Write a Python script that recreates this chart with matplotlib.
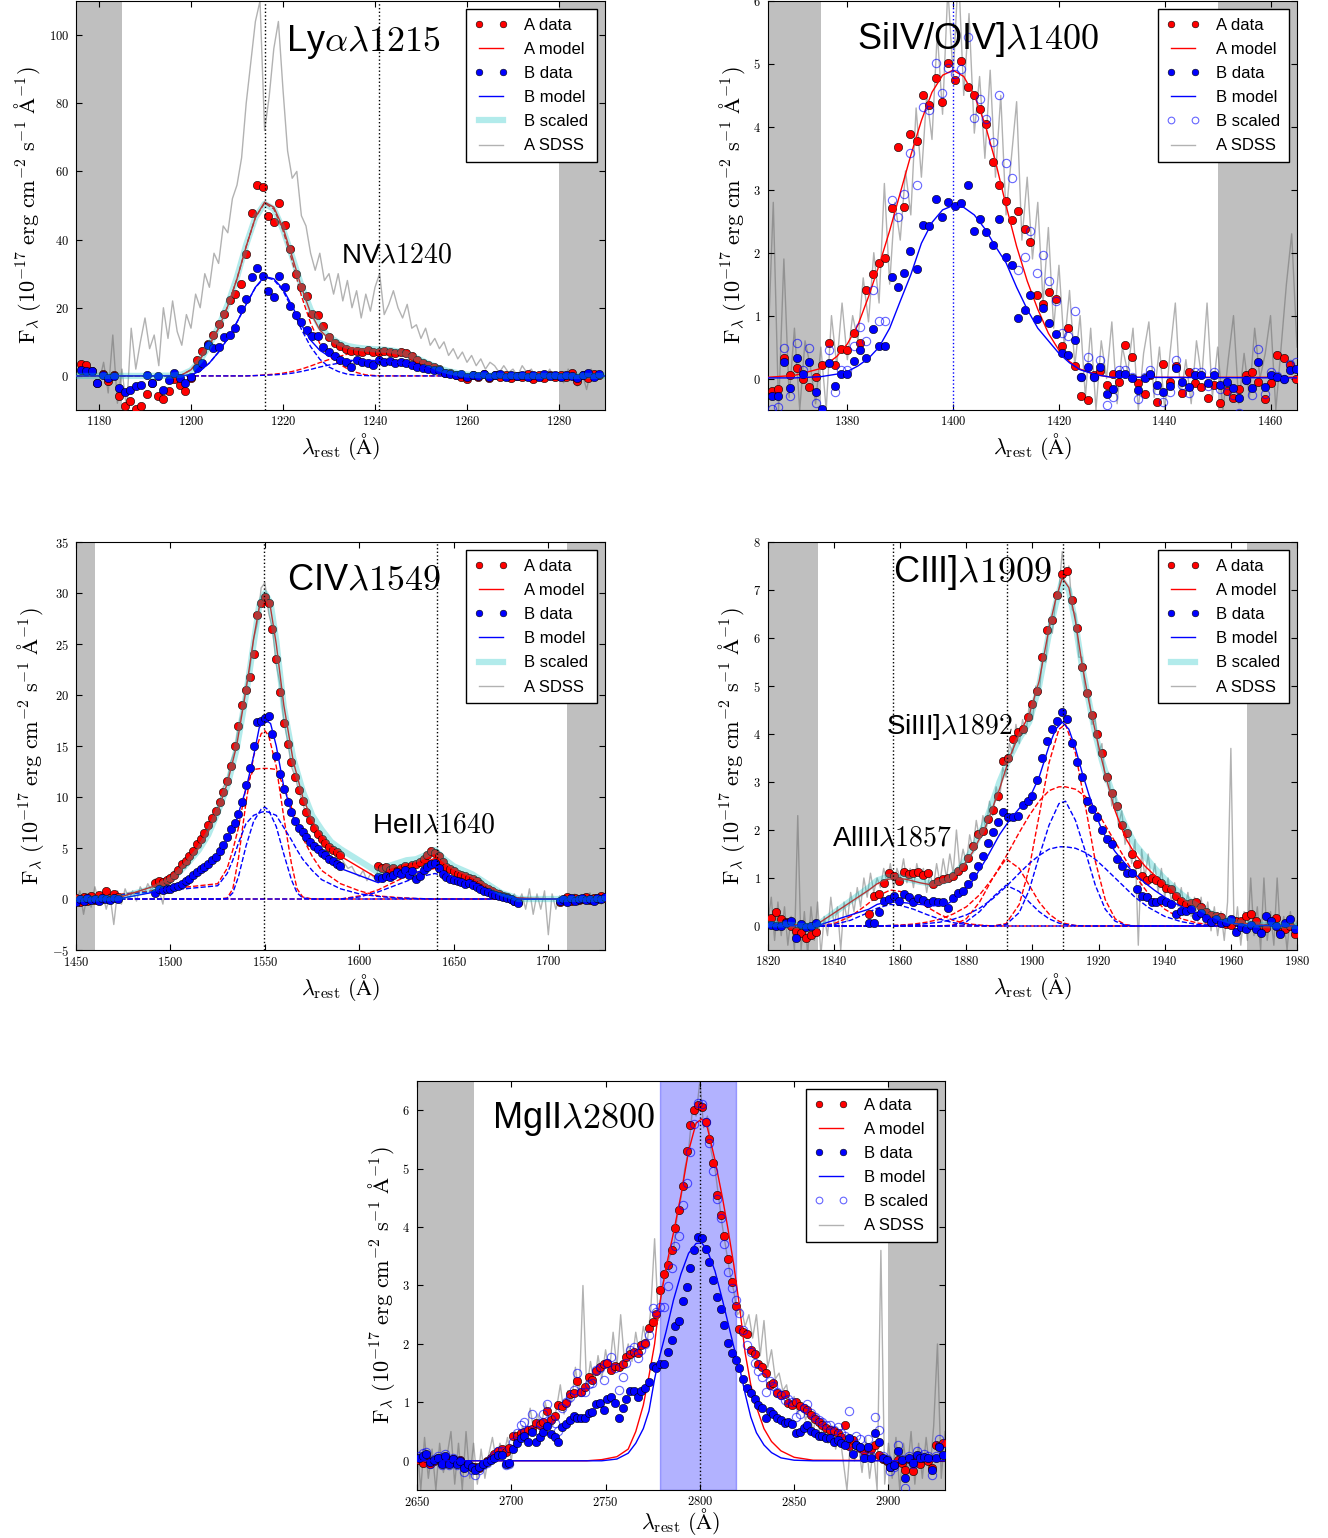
import matplotlib
matplotlib.use("Agg")
import matplotlib.pyplot as plt
from matplotlib.ticker import MultipleLocator, FuncFormatter

plt.rcParams['font.family'] = ['Liberation Sans', 'DejaVu Sans']
plt.rcParams['mathtext.fontset'] = 'cm'
plt.rcParams['xtick.direction'] = 'in'
plt.rcParams['ytick.direction'] = 'in'
plt.rcParams['xtick.top'] = True
plt.rcParams['ytick.right'] = True
plt.rcParams['xtick.major.size'] = 4
plt.rcParams['ytick.major.size'] = 4
plt.rcParams['xtick.major.pad'] = 3.5
plt.rcParams['ytick.major.pad'] = 5

# ---------------- Ly alpha / NV ----------------
ly_wl = [1176.0, 1177.2, 1178.4, 1179.6, 1180.8, 1182.0, 1183.2, 1184.4, 1185.6, 1186.8,
         1188.0, 1189.2, 1190.4, 1191.6, 1192.8, 1194.0, 1195.2, 1196.4, 1197.6, 1198.8,
         1200.0, 1201.2, 1202.4, 1203.6, 1204.8, 1206.0, 1207.2, 1208.4, 1209.6, 1210.8,
         1212.0, 1213.2, 1214.4, 1215.6, 1216.8, 1218.0, 1219.2, 1220.4, 1221.6, 1222.8,
         1224.0, 1225.2, 1226.4, 1227.6, 1228.8, 1230.0, 1231.2, 1232.4, 1233.6, 1234.8,
         1236.0, 1237.2, 1238.4, 1239.6, 1240.8, 1242.0, 1243.2, 1244.4, 1245.6, 1246.8,
         1248.0, 1249.2, 1250.4, 1251.6, 1252.8, 1254.0, 1255.2, 1256.4, 1257.6, 1258.8,
         1260.0, 1261.2, 1262.4, 1263.6, 1264.8, 1266.0, 1267.2, 1268.4, 1269.6, 1270.8,
         1272.0, 1273.2, 1274.4, 1275.6, 1276.8, 1278.0, 1279.2, 1280.4, 1281.6, 1282.8,
         1284.0, 1285.2, 1286.4, 1287.6, 1288.8]
ly_a = [3.4, 3.1, 1.5, -2.2, 0.5, -1.5, 0.2, -6.0, -8.8, -7.5,
        -9.8, -8.8, -5.4, -2.2, -5.8, -6.8, -4.3, -1.0, -2.8, -4.3,
        -0.5, 4.7, 7.4, 9.4, 12.0, 15.3, 18.2, 22.3, 24.0, 27.0,
        35.7, 47.8, 56.0, 55.4, 47.0, 45.3, 50.7, 44.2, 37.2, 29.8,
        26.0, 23.5, 18.2, 17.8, 14.5, 11.4, 9.8, 8.8, 7.8, 7.3,
        7.4, 7.1, 7.6, 7.1, 7.1, 7.4, 6.9, 6.7, 6.9, 6.7,
        5.7, 4.7, 3.7, 3.2, 2.7, 2.0, 1.0, 0.8, 0.3, -0.2,
        -1.0, 0.3, -0.3, 0.5, -0.5, 0.2, -0.4, 0.4, -0.6, 0.1,
        -0.3, 0.5, -0.8, 0.2, -0.5, 0.4, -0.2, 0.3, -0.4, 0.8,
        -1.6, 0.3, -0.5, 0.6, 0.2]
ly_b = [1.8, 1.5, 1.5, -2.2, 0.3, -0.5, 0.0, -3.6, -4.6, -4.1,
        -3.1, -2.6, 0.3, -2.2, 0.0, -4.1, -1.2, 0.8, -0.7, -2.2,
        -0.4, 2.3, 3.7, 9.0, 8.1, 8.6, 11.4, 12.0, 14.0, 19.6,
        22.5, 29.0, 31.6, 29.2, 24.8, 23.3, 29.4, 26.0, 20.6, 17.9,
        15.7, 13.5, 11.8, 11.6, 8.6, 6.9, 5.7, 4.7, 4.2, 2.7,
        4.7, 4.2, 3.7, 3.2, 4.7, 4.2, 4.4, 3.7, 4.2, 3.7,
        3.2, 2.7, 2.3, 2.0, 1.8, 1.6, 0.8, 0.5, 0.2, 0.6,
        -0.3, 0.4, 0.0, 0.6, -0.2, 0.3, 0.5, -0.2, 0.3, 0.0,
        0.4, -0.3, 0.2, -0.2, 0.5, -0.1, 0.3, -0.3, 0.4, 0.0,
        -0.5, 0.2, 0.8, -0.2, 0.5]
ly_mwl = [1175, 1190, 1196, 1198, 1200, 1202, 1204, 1206, 1208, 1210, 1212, 1214, 1216, 1218,
          1220, 1222, 1224, 1226, 1228, 1230, 1232, 1234, 1236, 1238, 1240, 1242, 1244, 1246,
          1248, 1250, 1252, 1254, 1256, 1258, 1260, 1264, 1270, 1290]
ly_ma = [0, 0, 0.1, 0.3, 1.8, 5.0, 9.0, 14.0, 20.5, 28.5, 38.0, 46.5, 51.0, 49.5,
         43.5, 35.0, 26.0, 18.5, 13.5, 10.8, 9.3, 8.5, 8.0, 7.7, 7.5, 7.3, 7.0, 6.4,
         5.5, 4.4, 3.2, 2.1, 1.3, 0.7, 0.4, 0.1, 0, 0]
ly_mb = [0, 0, 0.05, 0.1, 0.3, 1.5, 3.8, 7.0, 11.0, 15.8, 21.0, 26.0, 29.2, 28.5,
         25.5, 20.5, 15.0, 10.5, 7.5, 5.8, 5.0, 4.6, 4.5, 4.5, 4.5, 4.4, 4.2, 3.8,
         3.2, 2.5, 1.8, 1.2, 0.7, 0.4, 0.2, 0.05, 0, 0]
ly_sc = [0, 0, 0.1, 0.4, 1.6, 4.6, 9.0, 14.5, 21.0, 29.0, 38.5, 46.5, 50.5, 49.0,
         43.0, 35.0, 26.5, 19.5, 14.5, 11.5, 9.8, 8.8, 8.3, 8.0, 7.8, 7.7, 7.4, 6.8,
         5.8, 4.6, 3.4, 2.2, 1.4, 0.8, 0.4, 0.1, 0, 0]
ly_a_lya = [0, 0, 0.1, 0.3, 1.8, 5.0, 9.0, 14.0, 20.5, 28.5, 38.0, 46.5, 50.7, 49.0,
            42.7, 33.7, 23.5, 15.5, 9.5, 6.0, 3.7, 2.1, 1.0, 0.3, 0.1, 0, 0, 0,
            0, 0, 0, 0, 0, 0, 0, 0, 0, 0]
ly_a_nv = [0, 0, 0, 0, 0, 0, 0, 0, 0, 0, 0, 0.1, 0.3, 0.5,
           0.8, 1.3, 2.0, 2.9, 3.9, 4.8, 5.6, 6.4, 7.0, 7.4, 7.5, 7.3, 7.0, 6.4,
           5.5, 4.4, 3.2, 2.1, 1.3, 0.7, 0.4, 0.1, 0, 0]
ly_b_lya = [0, 0, 0.05, 0.1, 0.3, 1.5, 3.8, 7.0, 11.0, 15.8, 21.0, 25.9, 29.0, 28.2,
            25.0, 19.7, 13.7, 8.6, 4.9, 2.6, 1.3, 0.5, 0.2, 0.1, 0, 0, 0, 0,
            0, 0, 0, 0, 0, 0, 0, 0, 0, 0]
ly_b_nv = [0, 0, 0, 0, 0, 0, 0, 0, 0, 0, 0, 0.1, 0.2, 0.3,
           0.5, 0.8, 1.3, 1.9, 2.6, 3.2, 3.7, 4.1, 4.3, 4.5, 4.5, 4.4, 4.2, 3.8,
           3.2, 2.5, 1.8, 1.2, 0.7, 0.4, 0.2, 0.05, 0, 0]
ly_sdss_wl = [1180, 1181, 1182, 1183, 1184, 1185, 1186, 1187, 1188, 1189,
              1190, 1191, 1192, 1193, 1194, 1195, 1196, 1197, 1198, 1199,
              1200, 1201, 1202, 1203, 1204, 1205, 1206, 1207, 1208, 1209,
              1210, 1211, 1212, 1213, 1214, 1215, 1216, 1217, 1218, 1219,
              1220, 1221, 1222, 1223, 1224, 1225, 1226, 1227, 1228, 1229,
              1230, 1231, 1232, 1233, 1234, 1235, 1236, 1237, 1238, 1239,
              1240, 1241, 1242, 1243, 1244, 1245, 1246, 1247, 1248, 1249,
              1250, 1251, 1252, 1253, 1254, 1255, 1256, 1257, 1258, 1259,
              1260, 1261, 1262, 1263, 1264, 1265, 1266, 1267, 1268, 1269,
              1270, 1271, 1272, 1273, 1274, 1275, 1276, 1277, 1278, 1279,
              1280, 1281, 1282, 1283, 1284, 1285, 1286, 1287, 1288, 1289, 1290]
ly_sdss = [-2, 4, -5, 12, -8, 2, -10, 14, 2, 10,
           17, 8, 12, 3, 20, 11, 22, 13, 9, 18,
           14, 24, 20, 30, 26, 36, 33, 44, 42, 52,
           56, 64, 80, 92, 104, 110, 72, 82, 96, 104,
           84, 66, 58, 60, 47, 44, 36, 31, 36, 28,
           30, 24, 30, 22, 28, 20, 25, 17, 24, 19,
           26, 30, 18, 21, 25, 20, 17, 21, 14, 15,
           11, 14, 9, 11, 8, 10, 6, 8, 5, 7,
           4, 6, 3, 5, 2, 4, 3, 1, 3, 1,
           2, 0, 3, 1, 2, -1, 1, 0, 2, -1,
           1, -2, 2, -1, -3, 1, -4, 2, -1, 1, 0]

# ---------------- SiIV / OIV] ----------------
si_wl = [1365.7, 1366.8, 1368.0, 1369.2, 1370.5, 1371.6, 1372.8, 1374.1, 1375.2, 1376.5,
         1377.6, 1378.8, 1380.0, 1381.2, 1382.4, 1383.6, 1384.8, 1386.0, 1387.2, 1388.4,
         1389.5, 1390.7, 1391.9, 1393.1, 1394.3, 1395.5, 1396.8, 1397.9, 1399.1, 1400.3,
         1401.5, 1402.8, 1403.9, 1405.1, 1406.3, 1407.5, 1408.7, 1409.9, 1411.1, 1412.3,
         1413.5, 1414.6, 1415.8, 1417.0, 1418.2, 1419.4, 1420.6, 1421.8, 1423.0, 1424.2,
         1425.4, 1426.6, 1427.8, 1429.0, 1430.2, 1431.4, 1432.5, 1433.8, 1434.9, 1436.2,
         1437.3, 1438.5, 1439.7, 1440.9, 1442.2, 1443.3, 1444.5, 1445.7, 1446.9, 1448.2,
         1449.3, 1450.5, 1451.7, 1452.9, 1454.1, 1455.3, 1456.5, 1457.7, 1458.9, 1460.1,
         1461.2, 1462.5, 1463.6, 1464.8]
si_a = [-0.2, -0.16, 0.32, 0.05, 0.16, -0.01, -0.14, 0.02, 0.21, 0.57,
        0.21, 0.47, 0.45, 0.73, 0.56, 1.40, 1.66, 1.83, 1.92, 2.71,
        3.68, 2.73, 3.88, 3.77, 4.50, 4.35, 4.77, 4.40, 5.01, 4.74,
        5.05, 4.63, 4.50, 4.29, 4.04, 3.44, 3.07, 2.82, 2.52, 2.67,
        2.37, 2.17, 1.32, 1.19, 1.37, 1.27, 0.52, 0.81, 0.20, -0.27,
        -0.34, 0.05, 0.12, -0.10, 0.08, -0.05, 0.54, 0.35, -0.07, -0.24,
        0.05, -0.38, 0.23, -0.05, 0.20, -0.23, 0.10, -0.07, -0.14, -0.31,
        -0.10, -0.39, -0.20, -0.31, -0.17, 0.05, 0.10, -0.06, -0.32, -0.07,
        0.37, 0.32, 0.22, -0.01]
si_b = [-0.27, -0.27, 0.27, -0.15, 0.32, 0.08, 0.27, -0.22, -0.49, 0.24,
        -0.12, 0.07, 0.07, 0.28, 0.45, 0.32, 0.79, 0.51, 0.51, 1.61,
        1.46, 1.67, 2.03, 1.74, 2.44, 2.43, 2.85, 2.56, 2.81, 2.74,
        2.79, 3.08, 2.34, 2.53, 2.33, 2.13, 2.54, 1.93, 1.80, 0.96,
        1.09, 1.33, 0.95, 1.12, 0.88, 0.70, 0.40, 0.37, 0.61, 0.02,
        0.19, 0.02, 0.18, -0.24, -0.17, 0.07, 0.07, 0.01, -0.19, 0.01,
        0.08, -0.10, -0.22, -0.12, 0.16, -0.06, -0.13, 0.06, 0.06, -0.07,
        0.06, -0.10, -0.06, -0.15, -0.31, -0.02, -0.15, 0.26, -0.14, 0.06,
        0.02, 0.00, 0.13, 0.15]
si_bsc = [-0.49, -0.46, 0.48, -0.28, 0.57, 0.14, 0.48, -0.39, -0.86, 0.45,
          -0.21, 0.14, 0.14, 0.51, 0.82, 0.59, 1.41, 0.92, 0.92, 2.84,
          2.57, 2.94, 3.58, 3.08, 4.31, 4.27, 5.02, 4.53, 4.93, 4.84,
          4.92, 5.43, 4.14, 4.45, 4.12, 3.76, 4.50, 3.42, 3.18, 1.73,
          1.93, 2.34, 1.68, 1.96, 1.55, 1.23, 0.72, 0.67, 1.07, 0.03,
          0.35, 0.03, 0.30, -0.42, -0.30, 0.13, 0.14, 0.02, -0.33, 0.02,
          0.14, -0.18, -0.38, -0.21, 0.30, -0.10, -0.23, 0.11, 0.11, -0.12,
          0.11, -0.17, -0.10, -0.26, -0.54, -0.03, -0.26, 0.47, -0.24, 0.11,
          0.04, 0.00, 0.23, 0.27]
si_mwl = [1365, 1370, 1375, 1378, 1380, 1382, 1384, 1386, 1388, 1390, 1392, 1394, 1396, 1398, 1400,
          1402, 1404, 1406, 1408, 1410, 1412, 1414, 1416, 1418, 1420, 1422, 1424, 1427, 1430, 1465]
si_ma = [0.02, 0.05, 0.16, 0.35, 0.55, 0.85, 1.3, 1.8, 2.35, 2.95, 3.55, 4.1, 4.55, 4.82, 4.9,
         4.8, 4.5, 4.05, 3.45, 2.75, 2.1, 1.55, 1.1, 0.72, 0.45, 0.27, 0.15, 0.06, 0.02, 0.02]
si_mb = [0.01, 0.01, 0.03, 0.07, 0.11, 0.2, 0.32, 0.5, 0.8, 1.23, 1.65, 2.15, 2.48, 2.68, 2.75,
         2.72, 2.6, 2.38, 2.1, 1.84, 1.45, 1.1, 0.8, 0.6, 0.4, 0.25, 0.14, 0.06, 0.02, 0.01]
si_sdss_wl = [1365, 1366, 1367, 1368, 1369, 1370, 1371, 1372, 1373, 1374,
              1375, 1376, 1377, 1378, 1379, 1380, 1381, 1382, 1383, 1384,
              1385, 1386, 1387, 1388, 1389, 1390, 1391, 1392, 1393, 1394,
              1395, 1396, 1397, 1398, 1399, 1400, 1401, 1402, 1403, 1404,
              1405, 1406, 1407, 1408, 1409, 1410, 1411, 1412, 1413, 1414,
              1415, 1416, 1417, 1418, 1419, 1420, 1421, 1422, 1423, 1424,
              1425, 1426, 1427, 1428, 1429, 1430, 1431, 1432, 1433, 1434,
              1435, 1436, 1437, 1438, 1439, 1440, 1441, 1442, 1443, 1444,
              1445, 1446, 1447, 1448, 1449, 1450, 1451, 1452, 1453, 1454,
              1455, 1456, 1457, 1458, 1459, 1460, 1461, 1462, 1463, 1464, 1465]
si_sdss = [0.5, 2.8, -0.5, 1.9, -0.3, 0.8, -0.5, 0.6, 0.2, -0.4,
           0.5, -0.5, 1.0, 0.2, 1.2, 0.3, 1.0, 0.6, 1.6, 0.9,
           2.0, 1.2, 3.1, 1.5, 2.8, 2.2, 3.3, 2.6, 4.3, 3.2,
           4.5, 3.8, 5.5, 4.2, 6.2, 4.8, 6.5, 4.5, 5.8, 3.9,
           4.8, 3.5, 4.9, 3.2, 4.5, 2.6, 3.5, 4.4, 2.2, 3.2,
           1.9, 2.8, 1.2, 2.4, 0.8, 1.8, 0.5, 1.4, 0.2, 1.0,
           -0.3, 0.8, -0.5, 0.6, 0.0, 0.9, -0.4, 0.5, 0.1, 0.8,
           -0.5, 0.4, 0.9, -0.3, 0.5, -0.5, 0.4, 1.2, -0.3, 0.3,
           -0.4, 0.6, 0.0, 1.2, -0.3, 0.5, -0.5, 0.3, 1.0, -0.4,
           0.4, -0.3, 0.8, 0.0, 0.4, 1.0, -0.5, 0.5, 1.5, 2.3, 0.5]

# ---------------- CIV / HeII ----------------
civ_wl = [1450, 1452, 1454, 1456, 1458, 1460, 1462, 1464, 1466, 1468, 1470, 1472,
          1492, 1494, 1496, 1498, 1500, 1502, 1504, 1506, 1508, 1510,
          1512, 1514, 1516, 1518, 1520, 1522, 1524, 1526, 1528, 1530,
          1532, 1534, 1536, 1538, 1540, 1542, 1544, 1546, 1548, 1550,
          1552, 1554, 1556, 1558, 1560, 1562, 1564, 1566, 1568, 1570,
          1572, 1574, 1576, 1578, 1580, 1582, 1584, 1586, 1588, 1590,
          1610, 1612, 1614, 1616, 1618, 1620, 1622, 1624, 1626, 1628,
          1630, 1632, 1634, 1636, 1638, 1640, 1642, 1644, 1646, 1648,
          1650, 1652, 1654, 1656, 1658, 1660, 1662, 1664, 1666, 1668,
          1670, 1672, 1674, 1676, 1678, 1680, 1682, 1684,
          1706, 1708, 1710, 1712, 1714, 1716, 1718, 1720, 1722, 1724, 1726, 1728, 1730]
civ_a = [0.1, -0.3, 0.2, -0.2, 0.3, -0.1, 0.4, 0.0, 0.8, 0.1, 0.5, 0.2,
         1.6, 1.8, 1.7, 1.9, 2.1, 2.4, 2.8, 3.4, 3.7, 4.2,
         4.7, 5.4, 5.9, 6.5, 7.3, 7.9, 8.6, 9.5, 10.5, 11.6,
         13.0, 15.0, 17.0, 19.0, 20.5, 21.8, 24.0, 27.8, 29.0, 29.6,
         29.0, 26.5, 23.5, 20.3, 17.3, 15.2, 13.4, 12.0, 10.7, 9.6,
         8.5, 7.7, 7.0, 6.4, 5.9, 5.5, 5.1, 4.8, 4.6, 4.3,
         3.2, 3.0, 3.1, 2.8, 3.0, 2.7, 3.0, 3.2, 2.9, 3.3,
         3.4, 3.6, 3.9, 4.3, 4.7, 4.5, 4.2, 3.6, 3.1, 2.9,
         2.7, 2.5, 2.4, 2.3, 2.1, 2.0, 1.8, 1.5, 1.2, 1.0,
         0.8, 0.6, 0.5, 0.3, 0.2, 0.0, -0.2, -0.3,
         -0.3, -0.1, 0.2, -0.2, 0.1, -0.1, 0.0, 0.2, -0.1, 0.1, 0.0, 0.3, 0.1]
civ_b = [-0.3, 0.0, -0.2, 0.1, -0.1, 0.0, -0.2, 0.1, 0.0, -0.1, 0.1, 0.0,
         0.6, 1.0, 0.9, 1.0, 1.0, 1.2, 1.3, 1.5, 1.8, 2.0,
         2.4, 2.6, 2.9, 3.1, 3.4, 3.8, 4.1, 4.7, 5.3, 6.1,
         6.9, 7.5, 8.3, 9.5, 11.2, 12.8, 15.0, 17.4, 17.5, 17.7,
         17.9, 16.2, 14.0, 12.3, 10.8, 9.5, 8.5, 7.6, 7.0, 6.6,
         6.1, 5.6, 5.2, 4.9, 4.5, 4.3, 3.9, 3.7, 3.4, 3.2,
         2.2, 2.1, 2.3, 2.2, 2.4, 2.6, 2.5, 2.8, 2.4, 2.7,
         2.0, 2.3, 2.8, 3.1, 3.4, 3.5, 3.0, 2.5, 2.2, 2.0,
         1.9, 1.8, 1.7, 1.5, 1.6, 1.4, 1.2, 1.0, 0.8, 0.7,
         0.5, 0.4, 0.3, 0.2, 0.1, 0.0, -0.2, -0.4,
         -0.2, 0.0, -0.3, 0.1, -0.2, 0.0, 0.1, -0.1, 0.0, -0.2, 0.1, 0.0, 0.2]
civ_mwl = [1450, 1472, 1492, 1500, 1505, 1510, 1515, 1520, 1525, 1530, 1535, 1540, 1544, 1547,
           1550, 1553, 1556, 1560, 1565, 1570, 1575, 1580, 1585, 1590, 1610, 1615, 1620, 1625,
           1630, 1635, 1640, 1645, 1650, 1655, 1660, 1665, 1670, 1675, 1680, 1684, 1706, 1730]
civ_ma = [0.0, 0.1, 1.3, 2.0, 2.8, 3.8, 5.0, 6.6, 8.6, 11.3, 15.0, 20.5, 25.5, 28.6,
          29.5, 28.5, 25.0, 19.0, 13.5, 10.0, 7.7, 6.1, 5.0, 4.2, 2.0, 2.7, 2.9, 3.1,
          3.3, 3.6, 4.0, 3.5, 2.9, 2.5, 2.1, 1.6, 1.1, 0.6, 0.3, 0.1, 0.0, 0.0]
civ_mb = [0.0, 0.0, 0.7, 1.1, 1.5, 2.0, 2.6, 3.3, 4.3, 5.8, 7.8, 10.8, 14.0, 16.8,
          17.6, 17.2, 15.0, 11.0, 8.0, 6.5, 5.3, 4.4, 3.7, 3.0, 1.6, 2.0, 2.3, 2.5,
          2.6, 2.9, 3.2, 2.6, 2.1, 1.8, 1.5, 1.1, 0.7, 0.4, 0.2, 0.0, 0.0, 0.0]
civ_sc = [0.0, 0.1, 1.1, 1.9, 2.7, 3.7, 4.8, 6.3, 8.5, 11.0, 14.7, 20.0, 25.0, 28.8,
          30.0, 29.0, 25.3, 18.8, 13.8, 10.6, 8.2, 6.8, 5.6, 4.9, 2.6, 3.2, 3.5, 3.8,
          3.9, 4.3, 4.8, 3.9, 3.2, 2.8, 2.4, 1.8, 1.2, 0.6, 0.3, 0.0, 0.0, 0.0]
civ_cwl = [1450, 1525, 1530, 1533, 1536, 1540, 1544, 1548, 1550, 1552, 1556, 1560, 1564, 1567,
           1570, 1575, 1580, 1590, 1600, 1610, 1620, 1630, 1640, 1650, 1660, 1670, 1680, 1690, 1730]
civ_a_nar = [0, 0, 0.1, 1.0, 4.0, 9.5, 14.0, 16.2, 16.5, 16.0, 13.0, 8.0, 3.5, 1.0,
             0.2, 0, 0, 0, 0, 0, 0, 0, 0, 0, 0, 0, 0, 0, 0]
civ_a_brd = [0, 1.5, 3.0, 4.8, 7.0, 11.0, 12.7, 12.8, 12.8, 12.8, 12.7, 11.0, 9.0, 7.5,
             6.0, 4.2, 2.8, 1.5, 0.8, 0.3, 0.15, 0.05, 0, 0, 0, 0, 0, 0, 0]
civ_a_he = [0, 0, 0, 0, 0, 0, 0, 0, 0, 0, 0, 0, 0, 0,
            0, 0, 0, 0, 0.3, 0.9, 1.8, 2.6, 3.0, 2.5, 1.5, 0.7, 0.2, 0, 0]
civ_b_nar = [0, 0, 0.05, 0.6, 2.2, 5.2, 7.6, 8.8, 9.0, 8.7, 7.1, 4.4, 1.9, 0.6,
             0.1, 0, 0, 0, 0, 0, 0, 0, 0, 0, 0, 0, 0, 0, 0]
civ_b_brd = [0, 1.3, 2.5, 3.8, 5.5, 7.4, 8.2, 8.5, 8.6, 8.5, 8.2, 7.0, 5.8, 4.8,
             3.9, 2.8, 1.9, 1.0, 0.5, 0.25, 0.1, 0.05, 0, 0, 0, 0, 0, 0, 0]
civ_b_he = [0, 0, 0, 0, 0, 0, 0, 0, 0, 0, 0, 0, 0, 0,
            0, 0, 0, 0, 0.2, 0.7, 1.4, 2.1, 2.5, 2.0, 1.2, 0.55, 0.15, 0, 0]
civ_sdss_wl = [1450, 1452, 1454, 1456, 1458, 1460, 1462, 1464, 1466, 1468,
               1470, 1472, 1474, 1476, 1478, 1480, 1482, 1484, 1486, 1488, 1490,
               1492, 1494, 1496, 1498, 1500, 1502, 1504, 1506, 1508, 1510,
               1512, 1514, 1516, 1518, 1520, 1522, 1524, 1526, 1528, 1530,
               1532, 1534, 1536, 1538, 1540, 1542, 1544, 1546, 1548, 1550,
               1552, 1554, 1556, 1558, 1560, 1562, 1564, 1566, 1568, 1570,
               1572, 1574, 1576, 1578, 1580, 1582, 1584, 1586, 1588, 1590,
               1592, 1594, 1596, 1598, 1600, 1602, 1604, 1606, 1608, 1610,
               1612, 1614, 1616, 1618, 1620, 1622, 1624, 1626, 1628, 1630,
               1632, 1634, 1636, 1638, 1640, 1642, 1644, 1646, 1648, 1650,
               1652, 1654, 1656, 1658, 1660, 1662, 1664, 1666, 1668, 1670,
               1672, 1674, 1676, 1678, 1680, 1682, 1684, 1686, 1688, 1690,
               1692, 1694, 1696, 1698, 1700, 1702, 1704, 1706, 1708, 1710,
               1712, 1714, 1716, 1718, 1720, 1722, 1724, 1726, 1728, 1730]
civ_sdss = [-0.5, 0.8, -1.5, 0.5, -0.8, 1.2, -0.3, 0.6, -1.0, 0.4,
            -2.5, 0.8, -0.5, 1.0, 0.0, 0.8, -0.2, 1.2, 0.5, 1.5, 0.8,
            2.0, 0.8, -0.5, 2.2, 1.5, 2.8, 2.2, 3.5, 3.0, 4.5,
            4.0, 5.5, 5.0, 6.8, 6.5, 8.0, 8.5, 9.5, 11.0, 11.5,
            13.5, 14.5, 17.0, 18.5, 21.0, 22.5, 25.5, 27.0, 30.5, 31.0,
            28.0, 26.5, 23.0, 21.0, 17.5, 15.5, 13.0, 12.0, 10.5, 9.5,
            8.0, 7.5, 6.5, 6.0, 5.5, 5.0, 4.5, 4.8, 3.8, 4.2,
            3.5, 3.0, 3.2, 2.5, 2.2, 2.8, 1.8, 2.5, 2.0, 2.8,
            2.5, 3.2, 2.4, 3.0, 2.6, 3.3, 2.7, 3.1, 2.9, 3.6,
            3.2, 4.0, 3.8, 4.6, 4.0, 3.9, 3.2, 3.0, 2.5, 2.8,
            2.2, 2.6, 2.0, 2.4, 1.8, 2.1, 1.2, 1.6, 0.8, 1.2,
            0.4, 0.9, 0.0, 0.6, -0.3, 0.5, -0.5, 0.5, -1.0, 1.0,
            -1.5, 0.5, -1.0, 0.8, -3.5, 0.5, -1.0, 0.3, -0.5, 0.4,
            -0.3, 0.5, -0.6, 0.2, -0.4, 0.6, -0.2, 0.3, -0.5, 0.2]

# ---------------- CIII] / SiIII] / AlIII ----------------
c3_wl = [1821.0, 1822.5, 1824.0, 1825.5, 1827.0, 1828.5, 1830.0, 1831.5, 1833.0, 1834.5,
         1850.5, 1852.0, 1853.5, 1855.0, 1856.5, 1858.0, 1859.5, 1861.0, 1862.5, 1864.0,
         1865.5, 1867.0, 1868.5, 1870.0, 1871.5, 1873.0, 1874.5, 1876.0, 1877.5, 1879.0,
         1880.5, 1882.0, 1883.5, 1885.0, 1886.5, 1888.0, 1889.5, 1891.0, 1892.5, 1894.0,
         1895.5, 1897.0, 1898.5, 1900.0, 1901.5, 1903.0, 1904.5, 1906.0, 1907.5, 1909.0,
         1910.5, 1912.0, 1913.5, 1915.0, 1916.5, 1918.0, 1919.5, 1921.0, 1922.5, 1924.0,
         1925.5, 1927.0, 1928.5, 1930.0, 1931.5, 1933.0, 1934.5, 1936.0, 1937.5, 1939.0,
         1940.5, 1942.0, 1943.5, 1945.0, 1946.5, 1948.0, 1949.5, 1951.0, 1952.5, 1954.0,
         1955.5, 1957.0, 1958.5, 1960.0, 1961.5, 1963.0, 1964.5, 1966.0, 1967.5, 1969.0,
         1970.5, 1972.0, 1973.5, 1975.0, 1976.5, 1978.0, 1979.5]
c3_a = [0.17, 0.30, 0.14, 0.08, 0.0, -0.10, -0.14, -0.24, -0.18, -0.12,
        0.24, 0.62, 0.66, 0.90, 1.10, 1.05, 0.94, 1.13, 1.08, 1.10,
        1.12, 1.07, 1.10, 0.87, 0.94, 0.97, 1.00, 1.05, 1.14, 1.23,
        1.42, 1.66, 1.92, 1.98, 2.22, 2.42, 2.70, 3.43, 3.50, 3.90,
        4.05, 4.10, 4.35, 4.62, 4.90, 5.60, 6.17, 6.38, 6.90, 7.33,
        7.40, 6.80, 6.20, 5.40, 4.85, 4.40, 4.00, 3.60, 3.10, 2.78,
        2.50, 2.10, 1.94, 1.50, 1.30, 1.05, 0.95, 1.00, 0.95, 0.90,
        0.80, 0.77, 0.62, 0.52, 0.46, 0.48, 0.50, 0.40, 0.30, 0.22,
        0.20, 0.18, 0.05, 0.03, 0.10, 0.10, 0.20, 0.25, 0.10, -0.08,
        -0.04, 0.10, 0.17, -0.12, -0.06, 0.0, -0.17]
c3_b = [0.03, 0.0, -0.01, 0.07, 0.10, -0.26, 0.05, -0.03, 0.01, 0.07,
        0.07, 0.07, 0.30, 0.52, 0.56, 0.62, 0.52, 0.66, 0.60, 0.50,
        0.58, 0.55, 0.47, 0.52, 0.50, 0.49, 0.38, 0.58, 0.68, 0.72,
        0.88, 1.05, 1.25, 1.45, 1.72, 1.95, 2.17, 2.38, 2.27, 2.28,
        2.30, 2.52, 2.60, 2.70, 3.05, 3.50, 3.85, 4.10, 4.28, 4.45,
        4.32, 3.81, 3.42, 3.10, 2.60, 2.43, 2.27, 2.00, 1.82, 1.71,
        1.40, 1.25, 1.11, 1.10, 0.78, 0.63, 0.60, 0.50, 0.50, 0.55,
        0.49, 0.45, 0.25, 0.32, 0.31, 0.35, 0.21, 0.28, 0.17, 0.08,
        0.14, 0.07, 0.08, 0.14, -0.12, -0.03, -0.07, 0.03, -0.07, -0.14,
        0.21, 0.10, 0.0, -0.17, 0.07, 0.14, -0.07]
c3_mwl = [1820, 1825, 1830, 1834.5, 1850.5, 1853, 1856, 1859, 1862, 1866, 1870, 1874, 1878, 1882,
          1886, 1890, 1893, 1896, 1899, 1902, 1905, 1907, 1909, 1911, 1913, 1915, 1917, 1919,
          1921, 1923, 1925, 1928, 1931, 1934, 1937, 1940, 1944, 1948, 1952, 1956, 1960, 1965,
          1970, 1980]
c3_ma = [0.05, 0.04, 0.02, 0.02, 0.75, 0.88, 0.97, 1.0, 0.97, 0.9, 0.85, 0.92, 1.15, 1.55,
         2.1, 2.85, 3.5, 4.0, 4.4, 5.1, 6.2, 6.8, 7.25, 7.05, 6.35, 5.45, 4.7, 4.05,
         3.45, 2.9, 2.4, 1.85, 1.5, 1.25, 1.05, 0.85, 0.62, 0.45, 0.3, 0.18, 0.1, 0.05,
         0.02, 0.0]
c3_mb = [0.02, 0.01, 0.0, 0.0, 0.35, 0.45, 0.5, 0.5, 0.48, 0.45, 0.42, 0.45, 0.62, 0.95,
         1.4, 1.9, 2.2, 2.45, 2.65, 3.1, 3.75, 4.1, 4.25, 4.1, 3.7, 3.2, 2.75, 2.35,
         2.0, 1.75, 1.55, 1.3, 1.08, 0.9, 0.74, 0.6, 0.44, 0.31, 0.2, 0.12, 0.06, 0.02,
         0.01, 0.0]
c3_sc = [0.04, 0.03, 0.0, 0.0, 0.8, 0.95, 1.02, 1.02, 0.98, 0.92, 0.88, 0.95, 1.2, 1.6,
         2.2, 3.0, 3.5, 3.9, 4.25, 5.0, 6.1, 6.7, 7.2, 7.0, 6.3, 5.4, 4.7, 4.0,
         3.45, 3.0, 2.6, 2.1, 1.7, 1.45, 1.2, 0.98, 0.72, 0.5, 0.33, 0.2, 0.1, 0.04,
         0.02, 0.0]
c3_cwl = [1820, 1835, 1840, 1845, 1850, 1853, 1857, 1860, 1864, 1868, 1872, 1876, 1880, 1884,
          1888, 1892, 1896, 1899, 1902, 1905, 1908, 1910, 1913, 1916, 1919, 1922, 1925, 1928,
          1931, 1935, 1940, 1945, 1950, 1955, 1960, 1980]
c3_a_al = [0, 0, 0.05, 0.2, 0.45, 0.62, 0.75, 0.72, 0.58, 0.4, 0.24, 0.12, 0.05, 0.02,
           0, 0, 0, 0, 0, 0, 0, 0, 0, 0, 0, 0, 0, 0, 0, 0, 0, 0, 0, 0, 0, 0]
c3_a_si = [0, 0, 0, 0, 0, 0, 0, 0, 0, 0, 0, 0.02, 0.15, 0.5,
           1.0, 1.4, 1.2, 0.85, 0.5, 0.25, 0.1, 0.05, 0.01, 0, 0, 0, 0, 0, 0, 0, 0, 0, 0, 0, 0, 0]
c3_a_nar = [0, 0, 0, 0, 0, 0, 0, 0, 0, 0, 0, 0, 0, 0,
            0, 0.05, 0.45, 1.2, 2.3, 3.4, 4.1, 4.2, 3.6, 2.5, 1.35, 0.55, 0.15, 0.03,
            0, 0, 0, 0, 0, 0, 0, 0]
c3_a_brd = [0, 0, 0, 0, 0, 0, 0.01, 0.02, 0.04, 0.08, 0.14, 0.25, 0.4, 0.65,
            1.0, 1.45, 1.95, 2.3, 2.6, 2.82, 2.9, 2.9, 2.85, 2.7, 2.45, 2.1, 1.75, 1.4,
            1.05, 0.68, 0.35, 0.15, 0.06, 0.02, 0, 0]
c3_b_al = [0, 0, 0.03, 0.12, 0.27, 0.37, 0.45, 0.43, 0.35, 0.24, 0.14, 0.07, 0.03, 0.01,
           0, 0, 0, 0, 0, 0, 0, 0, 0, 0, 0, 0, 0, 0, 0, 0, 0, 0, 0, 0, 0, 0]
c3_b_si = [0, 0, 0, 0, 0, 0, 0, 0, 0, 0, 0, 0.01, 0.09, 0.3,
           0.6, 0.85, 0.72, 0.5, 0.3, 0.15, 0.06, 0.03, 0.01, 0, 0, 0, 0, 0, 0, 0, 0, 0, 0, 0, 0, 0]
c3_b_nar = [0, 0, 0, 0, 0, 0, 0, 0, 0, 0, 0, 0, 0, 0,
            0, 0.03, 0.28, 0.75, 1.45, 2.1, 2.55, 2.6, 2.2, 1.55, 0.85, 0.35, 0.1, 0.02,
            0, 0, 0, 0, 0, 0, 0, 0]
c3_b_brd = [0, 0, 0, 0, 0, 0, 0.01, 0.01, 0.02, 0.05, 0.08, 0.14, 0.23, 0.37,
            0.57, 0.82, 1.1, 1.3, 1.47, 1.6, 1.65, 1.65, 1.62, 1.53, 1.39, 1.2, 1.0, 0.8,
            0.6, 0.39, 0.2, 0.09, 0.03, 0.01, 0, 0]
c3_sdss_wl = [1820, 1821, 1822, 1823, 1824, 1825, 1826, 1827, 1828, 1829,
              1830, 1831, 1832, 1833, 1834, 1835, 1836, 1837, 1838, 1839,
              1840, 1841, 1842, 1843, 1844, 1845, 1846, 1847, 1848, 1849,
              1850, 1851, 1852, 1853, 1854, 1855, 1856, 1857, 1858, 1859,
              1860, 1861, 1862, 1863, 1864, 1865, 1866, 1867, 1868, 1869,
              1870, 1871, 1872, 1873, 1874, 1875, 1876, 1877, 1878, 1879,
              1880, 1881, 1882, 1883, 1884, 1885, 1886, 1887, 1888, 1889,
              1890, 1891, 1892, 1893, 1894, 1895, 1896, 1897, 1898, 1899,
              1900, 1901, 1902, 1903, 1904, 1905, 1906, 1907, 1908, 1909,
              1910, 1911, 1912, 1913, 1914, 1915, 1916, 1917, 1918, 1919,
              1920, 1921, 1922, 1923, 1924, 1925, 1926, 1927, 1928, 1929,
              1930, 1931, 1932, 1933, 1934, 1935, 1936, 1937, 1938, 1939,
              1940, 1941, 1942, 1943, 1944, 1945, 1946, 1947, 1948, 1949,
              1950, 1951, 1952, 1953, 1954, 1955, 1956, 1957, 1958, 1959,
              1960, 1961, 1962, 1963, 1964, 1965, 1966, 1967, 1968, 1969,
              1970, 1971, 1972, 1973, 1974, 1975, 1976, 1977, 1978, 1979, 1980]
c3_sdss = [0.1, 0.6, -0.3, 0.5, -0.2, 0.4, -0.4, 0.2, -0.5, 2.3,
           -0.5, 0.3, -0.6, 0.4, -0.3, 0.5, -0.6, 0.2, -0.2, 0.6,
           0.0, 0.4, -0.5, 0.5, 0.1, 0.7, 0.3, 0.8, 0.4, 1.0,
           0.6, 1.1, 0.7, 1.0, 0.8, 1.2, 0.9, 1.3, 0.8, 1.2,
           1.0, 1.4, 0.9, 1.2, 0.8, 1.3, 1.0, 1.2, 0.7, 1.1,
           0.8, 1.3, 0.9, 1.4, 1.0, 1.5, 1.1, 2.0, 1.2, 1.6,
           1.3, 1.9, 1.6, 2.2, 1.8, 2.3, 2.0, 2.6, 2.3, 2.9,
           2.6, 3.3, 3.1, 3.8, 3.6, 4.2, 3.8, 4.3, 4.0, 4.6,
           4.3, 5.0, 4.8, 5.6, 5.5, 6.3, 6.1, 6.8, 7.0, 7.8,
           7.3, 7.5, 6.6, 6.5, 5.6, 5.6, 4.8, 4.9, 4.2, 4.3,
           3.6, 3.8, 3.0, 3.2, 2.5, 2.8, 2.1, 2.4, 1.7, 2.0,
           1.3, 1.8, -0.4, 1.6, 1.0, 1.5, 0.9, 1.3, 0.7, 1.2,
           0.6, 1.0, 0.5, 0.9, 0.4, 0.8, 0.3, 0.7, 0.2, 0.6,
           0.1, 0.6, 0.0, 0.5, -0.1, 0.4, -0.2, 0.3, -0.3, 0.5,
           3.7, -0.2, 0.4, -0.4, 0.3, -0.3, 1.0, -0.2, 0.4, -0.5,
           1.0, -0.3, 0.3, -0.4, 1.0, -0.2, 0.2, -0.5, 0.3, -0.2, 0.1]

# ---------------- MgII ----------------
mg_wl = [2651, 2653, 2655, 2657, 2659, 2661, 2663, 2665, 2667, 2669, 2671, 2673, 2675,
         2677, 2679, 2681, 2683, 2685, 2687, 2689, 2691, 2693, 2695, 2697, 2699,
         2701, 2703, 2705, 2707, 2709, 2711, 2713, 2715, 2717, 2719,
         2721, 2723, 2725, 2727, 2729, 2731, 2733, 2735, 2737, 2739,
         2741, 2743, 2745, 2747, 2749, 2751, 2753, 2755, 2757, 2759,
         2761, 2763, 2765, 2767, 2769, 2771, 2773, 2775, 2777, 2779,
         2781, 2783, 2785, 2787, 2789, 2791, 2793, 2795, 2797, 2799,
         2801, 2803, 2805, 2807, 2809, 2811, 2813, 2815, 2817, 2819,
         2821, 2823, 2825, 2827, 2829, 2831, 2833, 2835, 2837, 2839,
         2841, 2843, 2845, 2847, 2849, 2851, 2853, 2855, 2857, 2859,
         2861, 2863, 2865, 2867, 2869, 2871, 2873, 2875, 2877, 2879,
         2881, 2883, 2885, 2887, 2889, 2891, 2893, 2895, 2897, 2899,
         2901, 2903, 2905, 2907, 2909, 2911, 2913, 2915, 2917, 2919,
         2921, 2923, 2925, 2927, 2929]
mg_a = [0.02, -0.03, 0.05, -0.05, 0.0, 0.04, -0.04, 0.05, 0.0, 0.03, -0.02, 0.02, -0.05,
        -0.05, -0.1, -0.1, -0.12, -0.05, 0.0, 0.05, 0.12, 0.17, 0.2, 0.15, 0.22,
        0.42, 0.43, 0.47, 0.5, 0.52, 0.55, 0.65, 0.62, 0.67, 0.86,
        0.69, 0.76, 0.95, 0.93, 0.99, 1.14, 1.16, 1.36, 1.18, 1.27,
        1.43, 1.39, 1.53, 1.61, 1.65, 1.67, 1.56, 1.62, 1.6, 1.65,
        1.77, 1.82, 1.87, 1.85, 1.99, 2.02, 2.27, 2.38, 2.51, 2.93,
        3.19, 3.35, 3.6, 3.99, 4.3, 4.7, 5.3, 5.75, 6.0, 6.09,
        6.06, 5.79, 5.5, 5.1, 4.55, 4.2, 3.85, 3.46, 3.06, 2.65,
        2.26, 2.21, 2.17, 1.89, 1.82, 1.65, 1.6, 1.5, 1.29, 1.33,
        1.16, 1.13, 1.14, 0.99, 0.96, 1.01, 0.93, 0.9, 0.87, 0.79,
        0.72, 0.67, 0.61, 0.56, 0.53, 0.51, 0.47, 0.4, 0.61, 0.25,
        0.36, 0.27, 0.22, 0.16, 0.22, 0.21, 0.27, 0.1, 0.03, 0.0,
        -0.1, -0.08, 0.02, -0.04, -0.15, 0.03, -0.18, 0.06, -0.06, 0.05,
        0.0, -0.13, 0.27, 0.25, 0.3]
mg_b = [0.05, 0.08, 0.12, -0.02, 0.02, 0.05, -0.05, 0.08, -0.05, 0.03, -0.05, 0.0, -0.12,
        -0.05, -0.1, -0.15, -0.1, -0.05, -0.02, 0.02, 0.05, 0.1, 0.1, -0.05, -0.03,
        0.2, 0.3, 0.39, 0.42, 0.33, 0.5, 0.33, 0.4, 0.5, 0.59,
        0.45, 0.4, 0.32, 0.57, 0.63, 0.69, 0.76, 0.74, 0.73, 0.73,
        0.82, 0.83, 0.97, 0.99, 0.87, 1.05, 1.1, 0.99, 0.74, 0.9,
        1.05, 1.19, 1.2, 1.1, 1.19, 1.25, 1.35, 1.63, 1.59, 1.65,
        1.65, 1.87, 2.06, 2.3, 2.4, 2.73, 2.97, 3.3, 3.6, 3.83,
        3.81, 3.62, 3.4, 3.1, 2.8, 2.6, 2.32, 2.02, 1.85, 1.72,
        1.58, 1.4, 1.24, 1.16, 1.05, 0.96, 0.9, 0.73, 0.85, 0.8,
        0.73, 0.7, 0.65, 0.66, 0.63, 0.47, 0.5, 0.56, 0.61, 0.51,
        0.47, 0.43, 0.42, 0.39, 0.39, 0.33, 0.36, 0.3, 0.27, 0.39,
        0.11, 0.27, 0.23, 0.05, 0.23, 0.05, 0.47, 0.33, 0.05, 0.02,
        -0.11, -0.07, 0.17, 0.02, -0.29, 0.05, -0.04, 0.1, 0.05, 0.07,
        0.05, -0.15, 0.05, 0.23, 0.1]
mg_bsc = [0.08, 0.13, 0.15, -0.05, 0.03, 0.08, -0.08, 0.12, -0.08, 0.05, -0.08, 0.0, -0.2,
          -0.08, -0.16, -0.24, -0.16, -0.08, -0.03, 0.03, 0.08, 0.16, 0.16, -0.08, -0.05,
          0.32, 0.48, 0.62, 0.67, 0.53, 0.8, 0.53, 0.64, 0.8, 0.97,
          0.72, 0.64, 0.51, 0.91, 1.01, 1.1, 1.22, 1.5, 1.17, 1.17,
          1.31, 1.33, 1.55, 1.58, 1.39, 1.68, 1.78, 1.58, 1.22, 1.44,
          1.68, 1.9, 1.95, 1.76, 1.9, 2.0, 2.16, 2.61, 2.54, 2.64,
          2.64, 2.99, 3.3, 3.68, 3.84, 4.37, 4.75, 5.28, 5.76, 6.12,
          6.1, 5.8, 5.44, 4.96, 4.48, 4.16, 3.71, 3.23, 2.96, 2.75,
          2.53, 2.24, 1.98, 1.86, 1.68, 1.54, 1.44, 1.17, 1.36, 1.28,
          1.17, 1.12, 1.04, 1.06, 1.01, 0.75, 0.8, 0.9, 0.98, 0.82,
          0.75, 0.69, 0.67, 0.62, 0.62, 0.53, 0.58, 0.48, 0.43, 0.86,
          0.18, 0.43, 0.37, 0.08, 0.37, 0.08, 0.75, 0.53, 0.08, 0.03,
          -0.18, -0.11, 0.27, 0.03, -0.46, 0.08, -0.06, 0.16, 0.08, 0.11,
          0.08, -0.24, 0.08, 0.37, 0.16]
mg_mwl = [2650, 2740, 2748, 2756, 2762, 2766, 2770, 2773, 2776, 2778, 2782, 2786, 2790, 2794,
          2798, 2801, 2804, 2808, 2812, 2815, 2818, 2821, 2824, 2827, 2830, 2834, 2838, 2843,
          2850, 2860, 2930]
mg_ma = [0, 0, 0.02, 0.07, 0.2, 0.5, 0.95, 1.45, 2.0, 2.55, 3.3, 3.9, 4.55, 5.3,
         5.78, 5.85, 5.7, 5.15, 4.5, 3.95, 3.35, 2.65, 1.85, 1.3, 0.92, 0.55, 0.33, 0.17,
         0.06, 0.01, 0]
mg_mb = [0, 0, 0.0, 0.03, 0.13, 0.3, 0.55, 0.85, 1.4, 1.7, 2.2, 2.75, 3.2, 3.55,
         3.72, 3.73, 3.6, 3.25, 2.75, 2.35, 1.95, 1.6, 1.15, 0.75, 0.48, 0.27, 0.14, 0.05,
         0.01, 0.0, 0.0]
mg_sdss_wl = [2650, 2652, 2654, 2656, 2658, 2660, 2662, 2664, 2666, 2668, 2670, 2672, 2674,
              2676, 2678, 2680, 2682, 2684, 2686, 2688, 2690, 2692, 2694, 2696, 2698, 2700,
              2702, 2704, 2706, 2708, 2710, 2712, 2714, 2716, 2718, 2720,
              2722, 2724, 2726, 2728, 2730, 2732, 2734, 2736, 2738, 2740,
              2742, 2744, 2746, 2748, 2750, 2752, 2754, 2756, 2758, 2760,
              2762, 2764, 2766, 2768, 2770, 2772, 2774, 2776, 2778, 2780,
              2782, 2784, 2786, 2788, 2790, 2792, 2794, 2796, 2798, 2800,
              2802, 2804, 2806, 2808, 2810, 2812, 2814, 2816, 2818, 2820,
              2822, 2824, 2826, 2828, 2830, 2832, 2834, 2836, 2838, 2840,
              2842, 2844, 2846, 2848, 2850, 2852, 2854, 2856, 2858, 2860,
              2862, 2864, 2866, 2868, 2870, 2872, 2874, 2876, 2878, 2880,
              2882, 2884, 2886, 2888, 2890, 2892, 2894, 2896, 2898, 2900,
              2902, 2904, 2906, 2908, 2910, 2912, 2914, 2916, 2918, 2920,
              2922, 2924, 2926, 2928, 2930]
mg_sdss = [0.3, -0.5, 0.4, -0.3, 0.2, -0.5, 0.3, -0.2, 0.1, 0.5, -0.4, 0.3, -0.5,
           0.5, -0.3, 0.3, -0.4, 0.2, -0.3, 0.1, 0.4, 0.0, 0.3, 0.1, 0.4, 0.0,
           0.5, 0.3, 0.6, 0.4, 0.9, 0.5, 0.8, 0.6, 1.0, 0.7,
           0.6, 0.9, 1.3, 0.8, 1.2, 1.0, 1.6, 1.1, 3.0, 1.2,
           1.7, 1.3, 1.8, 1.4, 1.9, 1.5, 2.2, 1.6, 2.5, 1.7,
           2.0, 1.7, 2.2, 1.8, 2.3, 2.0, 2.6, 3.8, 2.4, 3.0,
           3.2, 3.5, 3.6, 4.2, 4.5, 5.0, 5.3, 6.0, 5.9, 6.5,
           5.7, 5.9, 5.3, 5.0, 4.5, 4.0, 3.6, 3.2, 2.9, 2.5,
           2.6, 2.3, 2.5, 2.1, 2.5, 1.8, 2.4, 1.6, 1.9, 1.4,
           1.5, 1.2, 1.3, 0.9, 1.1, 0.8, 1.0, 0.7, 0.9, 0.5,
           0.8, 0.4, 0.7, 0.3, 0.6, 0.2, 0.5, 0.0, -0.5, 0.4,
           0.0, 0.3, -0.2, 0.4, -0.3, 0.2, -0.5, 3.6, -0.4, 0.3,
           -0.3, 0.4, -0.5, 0.3, -0.2, 0.5, -0.4, 0.3, -0.3, 0.4,
           -0.2, 0.6, 2.0, -0.3, 0.5]

# ---------------- drawing ----------------
ANG = r'\mathrm{Å}'
YLABEL = (r'$\mathrm{F}_\lambda\ (10^{-17}\ \mathrm{erg}\ \mathrm{cm}^{-2}\ \mathrm{s}^{-1}\ '
          + ANG + r'^{-1})$')
XLABEL = r'$\lambda_{\rm rest}\ (' + ANG + r')$'
tick_fmt = FuncFormatter(lambda v, p: r'$%g$' % v)


def setup(ax, xlim, ylim, xstep, ystep, spans, xpad=2):
    ax.set_xlim(*xlim)
    ax.set_ylim(*ylim)
    ax.xaxis.set_major_locator(MultipleLocator(xstep))
    ax.yaxis.set_major_locator(MultipleLocator(ystep))
    ax.xaxis.set_major_formatter(tick_fmt)
    ax.yaxis.set_major_formatter(tick_fmt)
    ax.tick_params(labelsize=9)
    for x0, x1 in spans:
        ax.axvspan(x0, x1, color='gray', alpha=0.5, lw=0, zorder=0)
    ax.set_xlabel(XLABEL, fontsize=16, labelpad=xpad)
    ax.set_ylabel(YLABEL, fontsize=16)


def spectra(ax, wl, fa, fb, mwl, ma, mb, swl, sfl, sc_wl, sc, sc_points=False):
    ha, = ax.plot(wl, fa, 'o', color='r', mec='k', mew=0.4, ms=6, zorder=3, label='A data')
    hma, = ax.plot(mwl, ma, '-', color='r', lw=1, zorder=4, label='A model')
    hb, = ax.plot(wl, fb, 'o', color='b', mec='k', mew=0.4, ms=6, zorder=5, label='B data')
    hmb, = ax.plot(mwl, mb, '-', color='b', lw=1, zorder=6, label='B model')
    if sc_points:
        hs, = ax.plot(sc_wl, sc, 'o', mfc='none', mec='b', mew=0.8, ms=6, alpha=0.6,
                      zorder=4.5, label='B scaled')
    else:
        hs, = ax.plot(sc_wl, sc, '-', color='c', lw=4.5, alpha=0.3, zorder=7, label='B scaled')
    hsd, = ax.plot(swl, sfl, '-', color='0.4', lw=1, alpha=0.5, zorder=1, label='A SDSS')
    leg = ax.legend(handles=[ha, hma, hb, hmb, hs, hsd], loc='upper right', numpoints=2,
                    fontsize=12, fancybox=False, framealpha=1, edgecolor='k', markerscale=0.8,
                    handlelength=2.0, handletextpad=1.0, labelspacing=0.55, borderpad=0.5)
    leg.get_frame().set_linewidth(1.0)
    leg.set_zorder(20)


def components(ax, cwl, series, color):
    for s in series:
        ax.plot(cwl, s, '--', color=color, lw=1, zorder=2)


fig = plt.figure(figsize=(13.28, 15.38), dpi=100)
fig.patch.set_facecolor('white')

# Ly alpha
ax = fig.add_axes([0.05723, 0.73342, 0.39834, 0.26593])
setup(ax, (1175, 1290), (-10, 110), 20, 20, [(1175, 1185), (1280, 1290)])
spectra(ax, ly_wl, ly_a, ly_b, ly_mwl, ly_ma, ly_mb, ly_sdss_wl, ly_sdss, ly_mwl, ly_sc)
components(ax, ly_mwl, [ly_a_lya, ly_a_nv], 'r')
components(ax, ly_mwl, [ly_b_lya, ly_b_nv], 'b')
for x in (1216.0, 1240.8):
    ax.axvline(x, color='k', ls=':', lw=1, zorder=8)
ax.text(0.544, 0.90, r'Ly$\alpha\lambda1215$', transform=ax.transAxes, fontsize=26,
        ha='center', va='center', zorder=9)
ax.text(1244.6, 35.3, r'NV$\lambda1240$', fontsize=20, ha='center', va='center', zorder=9)

# SiIV / OIV]
ax = fig.add_axes([0.57831, 0.73342, 0.39834, 0.26593])
setup(ax, (1365, 1465), (-0.5, 6), 20, 1, [(1365, 1375), (1450, 1465)])
spectra(ax, si_wl, si_a, si_b, si_mwl, si_ma, si_mb, si_sdss_wl, si_sdss, si_wl, si_bsc,
        sc_points=True)
ax.axvline(1400.0, color='b', ls=':', lw=1, zorder=8)
ax.text(0.398, 0.905, r'SiIV/OIV]$\lambda1400$', transform=ax.transAxes, fontsize=26,
        ha='center', va='center', zorder=9)

# CIV
ax = fig.add_axes([0.05723, 0.38231, 0.39834, 0.26528])
setup(ax, (1450, 1730), (-5, 35), 50, 5, [(1450, 1460), (1710, 1730)])
spectra(ax, civ_wl, civ_a, civ_b, civ_mwl, civ_ma, civ_mb, civ_sdss_wl, civ_sdss, civ_mwl, civ_sc)
components(ax, civ_cwl, [civ_a_nar, civ_a_brd, civ_a_he], 'r')
components(ax, civ_cwl, [civ_b_nar, civ_b_brd, civ_b_he], 'b')
for x in (1549.5, 1641.0):
    ax.axvline(x, color='k', ls=':', lw=1, zorder=8)
ax.text(0.544, 0.907, r'CIV$\lambda1549$', transform=ax.transAxes, fontsize=26,
        ha='center', va='center', zorder=9)
ax.text(1639.3, 7.2, r'HeII$\lambda1640$', fontsize=20, ha='center', va='center', zorder=9)

# CIII]
ax = fig.add_axes([0.57831, 0.38231, 0.39834, 0.26528])
setup(ax, (1820, 1980), (-0.5, 8), 20, 1, [(1820, 1835), (1965, 1980)])
spectra(ax, c3_wl, c3_a, c3_b, c3_mwl, c3_ma, c3_mb, c3_sdss_wl, c3_sdss, c3_mwl, c3_sc)
components(ax, c3_cwl, [c3_a_al, c3_a_si, c3_a_nar, c3_a_brd], 'r')
components(ax, c3_cwl, [c3_b_al, c3_b_si, c3_b_nar, c3_b_brd], 'b')
for x in (1857.7, 1892.3, 1909.1):
    ax.axvline(x, color='k', ls=':', lw=1, zorder=8)
ax.text(0.387, 0.926, r'CIII]$\lambda1909$', transform=ax.transAxes, fontsize=26,
        ha='center', va='center', zorder=9)
ax.text(1875.0, 4.15, r'SiIII]$\lambda1892$', fontsize=20, ha='center', va='center', zorder=9)
ax.text(1857.4, 1.83, r'AlIII$\lambda1857$', fontsize=20, ha='center', va='center', zorder=9)

# MgII
ax = fig.add_axes([0.31401, 0.03121, 0.39759, 0.26593])
setup(ax, (2650, 2930), (-0.5, 6.5), 50, 1, [(2650, 2680), (2900, 2930)], xpad=-2)
ax.axvspan(2779, 2819, color='b', alpha=0.3, zorder=0.5)
spectra(ax, mg_wl, mg_a, mg_b, mg_mwl, mg_ma, mg_mb, mg_sdss_wl, mg_sdss, mg_wl, mg_bsc,
        sc_points=True)
ax.axvline(2800.0, color='k', ls=':', lw=1, zorder=8)
ax.text(0.296, 0.907, r'MgII$\lambda2800$', transform=ax.transAxes, fontsize=26,
        ha='center', va='center', zorder=9)

fig.savefig('out.png', dpi=100, facecolor='white')
